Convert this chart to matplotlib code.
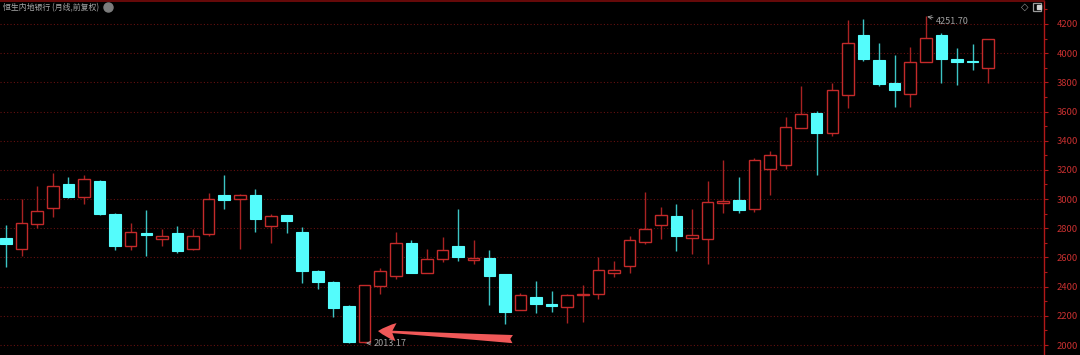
import numpy as np
import matplotlib.pyplot as plt
from matplotlib.lines import Line2D
from matplotlib.ticker import MultipleLocator

plt.rcParams['font.family'] = ['Noto Sans CJK SC', 'DejaVu Sans']

# monthly candles, forward adjusted
opens = [2733, 2661, 2832, 2941, 3102, 3011, 3123, 2900, 2676, 2767,
         2724, 2767, 2656, 2758, 3027, 2998, 3030, 2815, 2888, 2777,
         2506, 2433, 2269, 2020, 2408, 2474, 2702, 2497, 2588, 2676,
         2586, 2599, 2485, 2241, 2326, 2282, 2262, 2344, 2349, 2494,
         2540, 2709, 2820, 2881, 2736, 2724, 2975, 2996, 2931, 3203,
         3232, 3487, 3590, 3453, 3715, 4123, 3952, 3792, 3720, 3938,
         4125, 3961, 3945, 3897]
highs = [2820, 3002, 3088, 3177, 3150, 3162, 3128, 2905, 2834, 2927,
         2793, 2818, 2797, 3043, 3162, 3037, 3071, 2900, 2892, 2808,
         2512, 2436, 2272, 2412, 2528, 2774, 2717, 2661, 2740, 2934,
         2717, 2654, 2490, 2357, 2439, 2369, 2348, 2412, 2603, 2576,
         2745, 3052, 2945, 2963, 2934, 3127, 3269, 3150, 3282, 3332,
         3560, 3776, 3606, 3797, 4227, 4236, 4068, 3986, 4045, 4251.70,
         4136, 4034, 4063, 4095]
lows = [2535, 2610, 2802, 2877, 3008, 2968, 2893, 2654, 2654, 2608,
        2676, 2633, 2650, 2750, 2931, 2661, 2774, 2702, 2767, 2426,
        2381, 2193, 2016, 2013.17, 2353, 2456, 2495, 2495, 2569, 2574,
        2558, 2273, 2144, 2238, 2221, 2226, 2148, 2159, 2319, 2469,
        2494, 2695, 2724, 2644, 2622, 2558, 2904, 2904, 2911, 3030,
        3207, 3485, 3168, 3435, 3621, 3947, 3776, 3633, 3628, 3936,
        3795, 3781, 3886, 3792]
closes = [2695, 2838, 2920, 3093, 3011, 3139, 2900, 2676, 2772, 2754,
          2747, 2642, 2745, 3000, 2996, 3025, 2866, 2883, 2852, 2508,
          2433, 2251, 2020, 2410, 2504, 2699, 2497, 2588, 2654, 2601,
          2595, 2472, 2228, 2344, 2280, 2269, 2344, 2353, 2512, 2517,
          2722, 2797, 2893, 2745, 2756, 2979, 2984, 2922, 3269, 3300,
          3496, 3583, 3453, 3747, 4068, 3959, 3788, 3747, 3940, 4102,
          3961, 3942, 3938, 4095]

title = '恒生内地银行 (月线,前复权)'
y_ticks = [2000, 2200, 2400, 2600, 2800, 3000, 3200, 3400, 3600, 3800, 4000, 4200]

UP = '#c42a2a'
UP_WICK = '#a82222'
DOWN = '#54fcfc'
DOWN_WICK = '#3cc4c4'

o = np.array(opens, dtype=float)
h = np.array(highs, dtype=float)
l = np.array(lows, dtype=float)
c = np.array(closes, dtype=float)
x = np.arange(len(o))
up = c >= o
top = np.maximum(o, c)
bot = np.minimum(o, c)

fig = plt.figure(figsize=(10.8, 3.55), dpi=100, facecolor='black')
ax = fig.add_axes([0, 0, 1044 / 1080, 354 / 355])
ax.set_facecolor('black')

# wicks: hollow up-candles get split wicks so the body stays empty
ax.vlines(x[up], l[up], bot[up], color=UP_WICK, lw=1.0, zorder=2)
ax.vlines(x[up], top[up], h[up], color=UP_WICK, lw=1.0, zorder=2)
ax.vlines(x[~up], l[~up], h[~up], color=DOWN_WICK, lw=1.0, zorder=2)

# bodies
ax.bar(x[up], np.maximum(top[up] - bot[up], 6), bottom=bot[up], width=0.74,
       facecolor='black', edgecolor=UP, linewidth=1.0, zorder=3)
ax.bar(x[~up], np.maximum(top[~up] - bot[~up], 6), bottom=bot[~up], width=0.74,
       facecolor=DOWN, edgecolor=DOWN, linewidth=0.8, zorder=3)

ax.set_xlim(-0.385, 66.58)
ax.set_ylim(1932, 4357)

# axis look
for s in ['left', 'bottom']:
    ax.spines[s].set_visible(False)
ax.spines['right'].set_color('#b01818')
ax.spines['right'].set_linewidth(1.0)
ax.spines['top'].set_color('#7a0c0c')
ax.spines['top'].set_linewidth(1.2)
ax.set_xticks([])
ax.yaxis.tick_right()
ax.set_yticks(y_ticks)
ax.set_yticklabels([str(v) for v in y_ticks])
ax.yaxis.set_minor_locator(MultipleLocator(100))
ax.tick_params(axis='y', which='major', colors='#b01818', labelcolor='#c83030',
               labelsize=6.8, length=3, width=0.8, pad=6)
ax.tick_params(axis='y', which='minor', colors='#b01818', length=2, width=0.8)
ax.grid(axis='y', which='major', color='#641010', linestyle=(0, (1, 2)), lw=0.8)
ax.set_axisbelow(True)

# min / max labels
ax.annotate('2013.17', xy=(23, 2013.17), xytext=(9, 0), textcoords='offset pixels',
            color='#a0a0a0', fontsize=6.5, ha='left', va='center',
            arrowprops=dict(arrowstyle='->', color='#a0a0a0', lw=0.6,
                            shrinkA=0, shrinkB=1))
ax.annotate('4251.70', xy=(59, 4251.70), xytext=(10, -5), textcoords='offset pixels',
            color='#a0a0a0', fontsize=6.5, ha='left', va='center',
            arrowprops=dict(arrowstyle='->', color='#a0a0a0', lw=0.6,
                            shrinkA=0, shrinkB=1))

# the big red pointer at the low
ax.annotate('', xy=(23.86, 2096), xytext=(32.5, 2041),
            arrowprops=dict(arrowstyle='fancy,head_length=1.0,head_width=1.0,tail_width=0.45',
                            fc='#f05858', ec='none', mutation_scale=13,
                            shrinkA=0, shrinkB=0), zorder=5)

# header
fig.text(3 / 1080, 1 - 7.5 / 355, title, color='#a8a8a8', fontsize=5.7,
         ha='left', va='center')
fig.add_artist(Line2D([108 / 1080], [1 - 7 / 355], marker='o', ms=6.5,
                      color='#7c7c7c', transform=fig.transFigure))
fig.text(1025 / 1080, 1 - 7 / 355, '◇', color='#9a9a9a', fontsize=7,
         ha='center', va='center', family='DejaVu Sans')
fig.add_artist(Line2D([1037 / 1080], [1 - 7 / 355], marker='s', ms=6,
                      mfc='none', mec='#9a9a9a', mew=0.9, transform=fig.transFigure))
fig.add_artist(Line2D([1038.5 / 1080], [1 - 7 / 355], marker='s', ms=3,
                      color='#cfcfcf', transform=fig.transFigure))

fig.savefig('out.png', dpi=100, facecolor='black')
